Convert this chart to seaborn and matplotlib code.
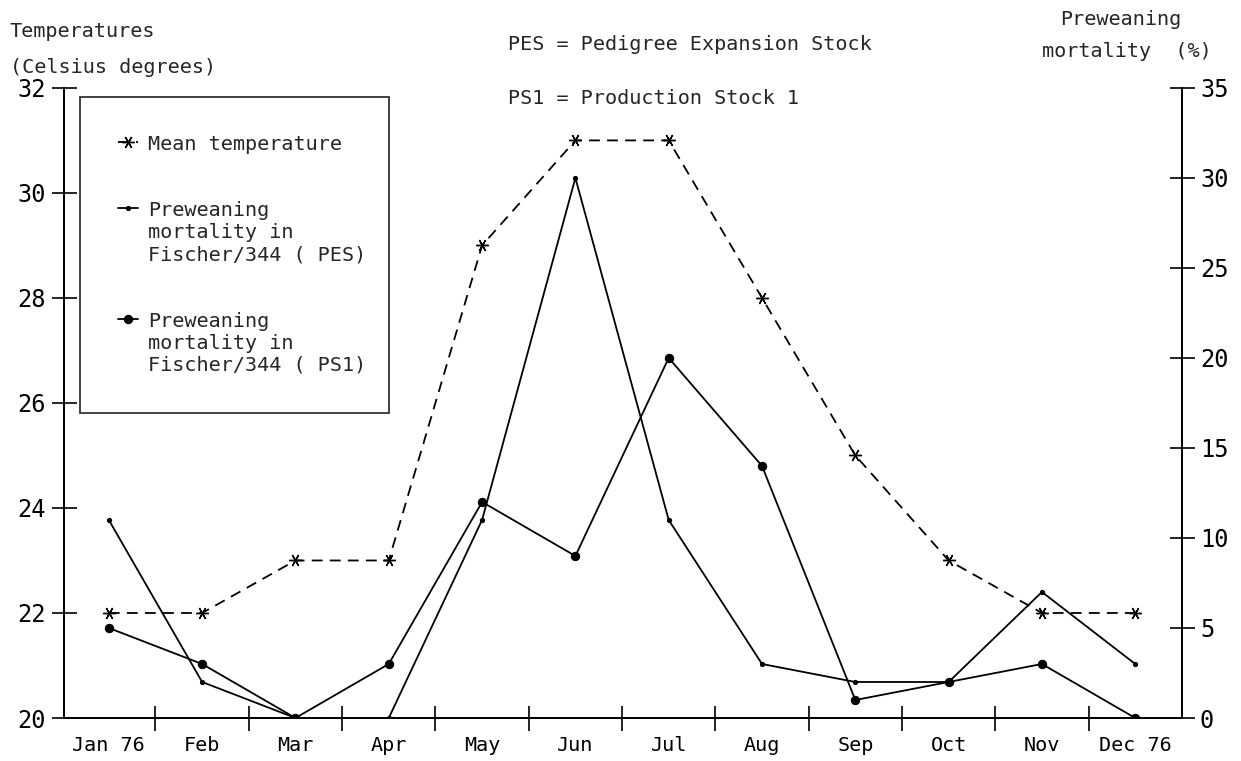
"""Températures moyennes et mortalité avant sevrage, Fischer/344, 1976."""

import matplotlib
matplotlib.use("Agg")
import matplotlib.pyplot as plt
import numpy as np
import pandas as pd
import seaborn as sns
from matplotlib.offsetbox import HPacker


MONTHS = ["Jan 76", "Feb", "Mar", "Apr", "May", "Jun",
          "Jul", "Aug", "Sep", "Oct", "Nov", "Dec 76"]
MEAN_TEMP = [22, 22, 23, 23, 29, 31, 31, 28, 25, 23, 22, 22]
MORT_PES = [11, 2, 0, 0, 11, 30, 11, 3, 2, 2, 7, 3]
MORT_PS1 = [5, 3, 0, 3, 12, 9, 20, 14, 1, 2, 3, 0]

TEMP_TICKS = [20, 22, 24, 26, 28, 30, 32]
MORT_TICKS = [0, 5, 10, 15, 20, 25, 30, 35]

LABEL_TEMP = "Mean temperature"
LABEL_PES = "Preweaning\nmortality in\nFischer/344 ( PES)"
LABEL_PS1 = "Preweaning\nmortality in\nFischer/344 ( PS1)"


sns.set_style("white")
plt.rcParams["font.family"] = ["DejaVu Sans Mono"]
FS = 14.5

df = pd.DataFrame({
    "pos": np.arange(len(MONTHS)),
    "temp": MEAN_TEMP,
    "pes": MORT_PES,
    "ps1": MORT_PS1,
})

fig = plt.figure(figsize=(12.41, 7.61), dpi=100)
ax = fig.add_axes([0.0516, 0.0565, 0.9008, 0.828])
ax2 = ax.twinx()

sns.lineplot(data=df, x="pos", y="temp", ax=ax, color="black",
             linestyle=(0, (6, 4)), linewidth=1.3,
             marker=(6, 2, 90), markersize=9, markeredgewidth=1.0,
             markeredgecolor="black", label=LABEL_TEMP)
sns.lineplot(data=df, x="pos", y="pes", ax=ax2, color="black",
             linewidth=1.3, marker="o", markersize=3,
             markeredgecolor="black", label=LABEL_PES)
sns.lineplot(data=df, x="pos", y="ps1", ax=ax2, color="black",
             linewidth=1.3, marker="o", markersize=6,
             markeredgecolor="black", label=LABEL_PS1)

ax.set_xlim(-0.48, 11.5)
ax.set_ylim(20, 32)
ax2.set_ylim(0, 35)

ax.set_yticks(TEMP_TICKS)
ax2.set_yticks(MORT_TICKS)
ax.set_xticks(df["pos"])
ax.set_xticklabels(MONTHS)
ax.set_xticks(df["pos"][:-1] + 0.5, minor=True)

ax.set_xlabel("")
ax.set_ylabel("")
ax2.set_ylabel("")

for a in (ax, ax2):
    a.spines["top"].set_visible(False)
    for side in ("left", "right", "bottom"):
        a.spines[side].set_color("black")
        a.spines[side].set_linewidth(1.3)

ax.tick_params(axis="x", which="major", length=0, pad=13,
               labelsize=FS, colors="black")
ax.tick_params(axis="x", which="minor", direction="inout", length=18,
               width=1.2, color="black", bottom=True)
ax.tick_params(axis="y", direction="inout", length=18, width=1.2,
               pad=4, labelsize=17, colors="black", left=True)
ax2.tick_params(axis="y", direction="inout", length=18, width=1.2,
                pad=4, labelsize=17, colors="black", right=True)

ax.get_legend().remove()
h1, l1 = ax.get_legend_handles_labels()
h2, l2 = ax2.get_legend_handles_labels()
leg = ax2.legend(h1 + h2, l1 + l2, loc="upper left",
                 bbox_to_anchor=(0.014, 0.5, 0.277, 0.486), mode="expand",
                 borderaxespad=0, fontsize=FS, frameon=True, fancybox=False,
                 handlelength=1.0, handletextpad=0.5, labelspacing=2.35,
                 borderpad=1.9)
leg.get_frame().set_edgecolor("black")
leg.get_frame().set_linewidth(1.3)
# handle en face de la première ligne du libellé
for packer in leg.findobj(HPacker):
    packer.align = "top"

fig.text(0.008, 0.958, "Temperatures", fontsize=FS, va="center")
fig.text(0.008, 0.911, "(Celsius degrees)", fontsize=FS, va="center")
fig.text(0.409, 0.941, "PES = Pedigree Expansion Stock", fontsize=FS,
         va="center")
fig.text(0.409, 0.870, "PS1 = Production Stock 1", fontsize=FS,
         va="center")
fig.text(0.854, 0.974, "Preweaning", fontsize=FS, va="center")
fig.text(0.840, 0.932, "mortality  (%)", fontsize=FS, va="center")

fig.savefig("out.png", dpi=100, facecolor="white")
